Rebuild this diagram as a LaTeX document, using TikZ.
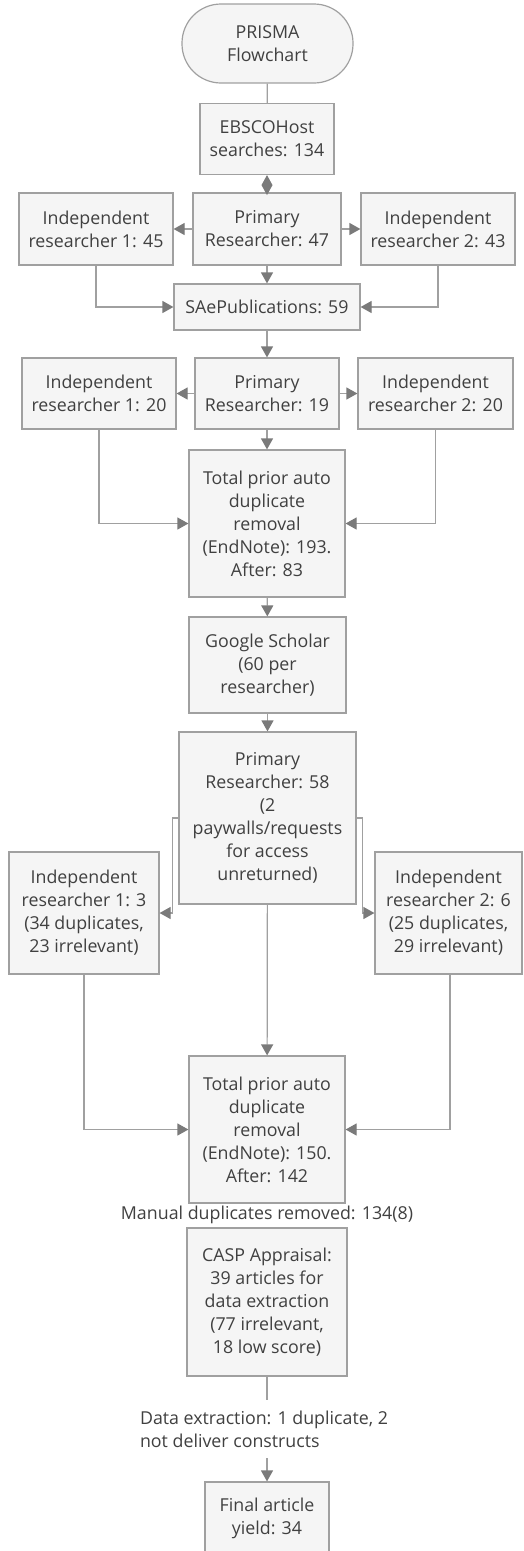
\documentclass[tikz,border=0pt]{standalone}
\usepackage{fontspec}
\setmainfont{Open Sans}
\usetikzlibrary{arrows.meta}
\definecolor{linea}{HTML}{A0A0A0}
\definecolor{punta}{HTML}{7A7A7A}
\definecolor{relleno}{HTML}{F5F5F5}
\definecolor{texto}{HTML}{404040}
\begin{document}
\begin{tikzpicture}[x=1pt,y=-1pt,
  every node/.style={draw=linea,fill=relleno,line width=1.2pt,text=texto,inner sep=0pt,
    align=center,font=\fontsize{17.8}{23}\selectfont},
  caja/.style 2 args={minimum width=#1pt,minimum height=#2pt},
  flecha/.style={draw=linea,line width=1.2pt,-{Triangle[length=11pt,width=12pt,color=punta]}},
  conector/.style={draw=linea,line width=1.2pt}]
  \useasboundingbox (0,0) rectangle (523,1551);
  \clip (0,0) rectangle (523,1551);

  % Inicio y busqueda en EBSCOHost
  \node[caja={171}{79},rounded corners=39pt] (inicio) at (267.5, 43.5) {PRISMA\\Flowchart};
  \node[caja={134}{71}] (ebsco) at (267, 139) {EBSCOHost\\searches: 134};

  % Primera fila de investigadores
  \node[caja={154}{72}] (ind1a) at (96, 229) {Independent\\researcher 1: 45};
  \node[caja={148}{72}] (prim1) at (267, 229) {Primary\\Researcher: 47};
  \node[caja={154}{72}] (ind2a) at (438, 229) {Independent\\researcher 2: 43};
  \node[caja={186}{46}] (sae) at (267, 307) {SAePublications: 59};

  % Segunda fila de investigadores
  \node[caja={154}{71}] (ind1b) at (99, 393.5) {Independent\\researcher 1: 20};
  \node[caja={144}{71}] (prim2) at (267, 393.5) {Primary\\Researcher: 19};
  \node[caja={155}{71}] (ind2b) at (435.5, 393.5) {Independent\\researcher 2: 20};
  \node[caja={156}{147}] (tot1) at (267, 523.5) {Total prior auto\\duplicate\\removal\\(EndNote): 193.\\After: 83};
  \node[caja={157}{96}] (gs) at (267.5, 665) {Google Scholar\\(60 per\\researcher)};

  % Tercera fila (Google Scholar)
  \node[caja={177}{172}] (prim3) at (267.5, 818) {Primary\\Researcher: 58\\(2\\paywalls/requests\\for access\\unreturned)};
  \node[caja={150}{122}] (ind1c) at (84, 913) {Independent\\researcher 1: 3\\(34 duplicates,\\23 irrelevant)};
  \node[caja={147}{122}] (ind2c) at (448.5, 913) {Independent\\researcher 2: 6\\(25 duplicates,\\29 irrelevant)};
  \node[caja={156}{147}] (tot2) at (267, 1129.5) {Total prior auto\\duplicate\\removal\\(EndNote): 150.\\After: 142};

  % Cribado final
  \node[draw=none, fill=none] (manual) at (267, 1215) {Manual duplicates removed: 134(8)};
  \node[caja={160}{148}] (casp) at (267, 1302) {CASP Appraisal:\\39 articles for\\data extraction\\(77 irrelevant,\\18 low score)};
  \node[caja={124}{72}] (final) at (267, 1518) {Final article\\yield: 34};

  % Aristas
  \draw[conector] (inicio) -- (ebsco);
  \draw[draw=linea,line width=1.2pt,{Diamond[length=20pt,width=11pt,color=punta]}-] (ebsco) -- (prim1);
  \foreach \from/\to in {prim1/ind1a, prim1/ind2a, prim1/sae, sae/prim2, prim2/ind1b, prim2/ind2b,
      prim2/tot1, tot1/gs, gs/prim3, prim3/tot2}
    \draw[flecha] (\from) -- (\to);

  % Uniones laterales
  \draw[flecha] (ind1a.south) |- (sae.west);
  \draw[flecha] (ind2a.south) |- (sae.east);
  \draw[flecha] (ind1b.south) |- (tot1.west);
  \draw[flecha] (ind2b.south) |- (tot1.east);
  \draw[flecha] (prim3.west) -- ++(-6,0) |- (ind1c.east);
  \draw[flecha] (prim3.east) -- ++(6,0) |- (ind2c.west);
  \draw[flecha] (ind1c.south) |- (tot2.west);
  \draw[flecha] ([xshift=1.5pt]ind2c.south) |- (tot2.east);

  % Extraccion de datos
  \draw[flecha] (casp) -- node[draw=none, fill=white, align=left, minimum height=58pt, xshift=-3pt] (datos)
    {Data extraction: 1 duplicate, 2\\not deliver constructs} (final);
\end{tikzpicture}
\end{document}
